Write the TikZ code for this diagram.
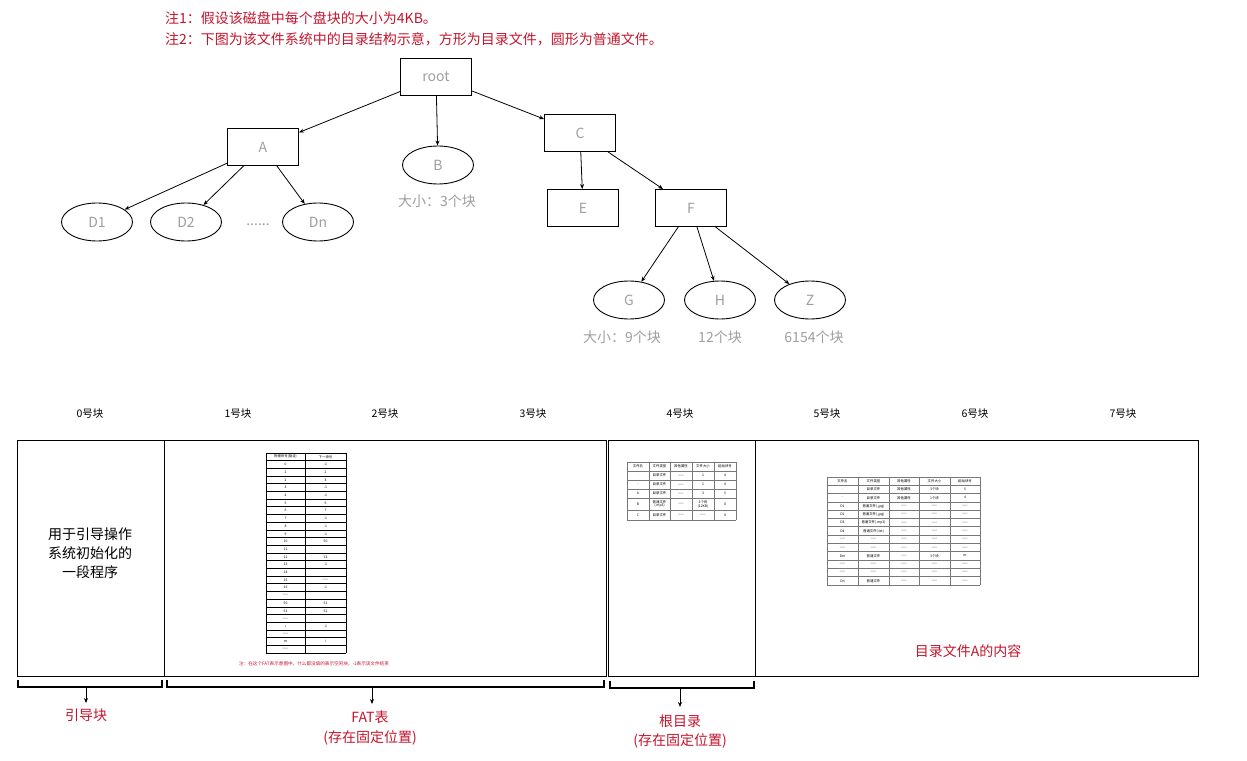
\documentclass[tikz,border=0pt]{standalone}
\usepackage{fontspec}
\setmainfont{Noto Sans CJK SC}
\usetikzlibrary{arrows.meta,shapes.geometric}
\definecolor{notered}{RGB}{196,20,44}
\definecolor{lblgray}{RGB}{158,158,158}
\definecolor{tblgray}{RGB}{120,120,120}
\begin{document}
\begin{tikzpicture}[x=1pt,y=-1pt,
  dirbox/.style={draw=black,line width=0.9pt,minimum width=71pt,minimum height=37pt,inner sep=0pt,font=\fontsize{14}{16}\selectfont,text=lblgray},
  filenode/.style={draw=black,line width=0.9pt,ellipse,minimum width=71pt,minimum height=38pt,inner sep=0pt,font=\fontsize{14}{16}\selectfont,text=lblgray},
  graylbl/.style={font=\fontsize{14}{16}\selectfont,text=lblgray,inner sep=1pt},
  arr/.style={-{Stealth[length=5pt,width=4pt]},line width=0.8pt},
  notetxt/.style={font=\fontsize{14}{16}\selectfont,text=notered,anchor=west,inner sep=0pt},
  redlbl/.style={font=\fontsize{14}{16}\selectfont,text=notered,inner sep=1pt},
  blklbl/.style={font=\fontsize{10.5}{12}\selectfont,inner sep=1pt},
  blkrect/.style={draw=black,line width=1pt},
  brk/.style={line width=1.8pt},
  fatline/.style={draw=black,line width=0.9pt},
  tline/.style={draw=tblgray,line width=0.7pt},
  tcell/.style={font=\fontsize{3.4}{3.8}\selectfont,inner sep=0pt,align=center},
  fatnote/.style={font=\fontsize{4.6}{5}\selectfont,text=notered,inner sep=0pt}
]
\useasboundingbox (0,0) rectangle (1247,760);

% ---------- notes ----------
\node[notetxt] (n1) at (165,18) {注1：假设该磁盘中每个盘块的大小为4KB。};
\node[notetxt] (n2) at (165,39) {注2：下图为该文件系统中的目录结构示意，方形为目录文件，圆形为普通文件。};

% ---------- tree ----------
\node[dirbox] (root) at (436,77) {root};
\node[dirbox] (A) at (263,147) {A};
\node[filenode] (B) at (438,165) {B};
\node[graylbl] (Bl) at (437,201) {大小：3个块};
\node[dirbox] (C) at (580,133) {C};
\node[dirbox] (E) at (583,208) {E};
\node[dirbox] (F) at (691,208) {F};
\node[filenode] (D1) at (97,222) {D1};
\node[filenode] (D2) at (186,222) {D2};
\node[graylbl] (dots) at (258,225) {......};
\node[filenode] (Dn) at (318,222) {Dn};
\node[filenode] (G) at (629,300) {G};
\node[filenode] (H) at (720,300) {H};
\node[filenode] (Z) at (810,300) {Z};
\node[graylbl] (Gl) at (622,337) {大小：9个块};
\node[graylbl] (Hl) at (720,337) {12个块};
\node[graylbl] (Zl) at (814,337) {6154个块};

\draw[arr] (root) -- (A);
\draw[arr] (root) -- (B);
\draw[arr] (root) -- (C);
\draw[arr] (A) -- (D1);
\draw[arr] (A) -- (D2);
\draw[arr] (A) -- (Dn);
\draw[arr] (C) -- (E);
\draw[arr] (C) -- (F);
\draw[arr] (F) -- (G);
\draw[arr] (F) -- (H);
\draw[arr] (F) -- (Z);

% ---------- block labels ----------
\foreach \n/\xx in {0/90,1/238,2/385,3/533,4/680,5/827,6/975,7/1123}
  \node[blklbl] (bl\n) at (\xx,414) {\n{}号块};

% ---------- blocks ----------
\draw[blkrect] (17,440) rectangle (164,676);
\draw[blkrect] (164,440) rectangle (606,676);
\draw[blkrect] (608,440) rectangle (755,676);
\draw[blkrect] (755,440) rectangle (1198,676);

\node[font=\fontsize{14}{19}\selectfont,align=center] (boot) at (90,553) {用于引导操作\\系统初始化的\\一段程序};
\node[redlbl] (Acont) at (968,651) {目录文件A的内容};

% ---------- FAT table ----------
\foreach \k in {0,...,26}
  \draw[fatline] (266,{453+7.7*\k}) -- (346,{453+7.7*\k});
\foreach \xx in {266,305,346}
  \draw[fatline] (\xx,453) -- (\xx,{453+7.7*26});
\foreach \a/\b [count=\i from 0] in {物理块号(隐含)/下一块号,0/-1,1/2,2/3,3/-1,4/-1,5/6,6/7,7/-1,8/-1,9/-1,10/50,11/{},12/13,13/-1,14/{},15/——,16/-1,——/{},50/51,51/52,——/{},i/-1,——/{},m/i,——/{}}
{
  \node[tcell] (fa\i) at (285.5,{453+7.7*\i+3.85}) {\a};
  \node[tcell] (fb\i) at (325.5,{453+7.7*\i+3.85}) {\b};
}
\node[fatnote] (fnote) at (314,664) {注：在这个FAT表示意图中，什么都没填的表示空闲块，-1表示该文件结束};

% ---------- root directory table ----------
\foreach \yy in {462,471,480,489,498,510,520}
  \draw[tline] (627,\yy) -- (736,\yy);
\foreach \xx in {627,649,670,692,714,736}
  \draw[tline] (\xx,462) -- (\xx,520);
\foreach \yy/\a/\b/\c/\d/\e [count=\i] in {466.5/文件名/文件类型/其他属性/文件大小/起始块号, 475.5/./目录文件/——/1/4, 484.5/../目录文件/——/1/4, 493.5/A/目录文件/——/3/5, 515/C/目录文件/——/——/8}
{
  \node[tcell] (ra\i) at (638,\yy) {\a};
  \node[tcell] (rb\i) at (659.5,\yy) {\b};
  \node[tcell] (rc\i) at (681,\yy) {\c};
  \node[tcell] (rd\i) at (703,\yy) {\d};
  \node[tcell] (re\i) at (725,\yy) {\e};
}
\node[tcell] (raB) at (638,504) {B};
\node[tcell] (rbB) at (659.5,504) {普通文件\\(.mp3)};
\node[tcell] (rcB) at (681,504) {——};
\node[tcell] (rdB) at (703,504) {3个块\\(12KB)};
\node[tcell] (reB) at (725,504) {8};

% ---------- directory A table ----------
\foreach \k in {0,...,13}
  \draw[tline] (827,{477+8.3*\k}) -- (980,{477+8.3*\k});
\foreach \xx in {827,858,889,919,950,980}
  \draw[tline] (\xx,477) -- (\xx,{477+8.3*13});
\foreach \a/\b/\c/\d/\e [count=\i from 0] in {文件名/文件类型/其他属性/文件大小/起始块号, ./目录文件/其他属性/3个块/5, ../目录文件/其他属性/1个块/4, D1/普通文件(.jpg)/——/——/——, D2/普通文件(.jpg)/——/——/——, D3/普通文件(.mp3)/——/——/——, D4/普通文件(.txt)/——/——/——, ——/——/——/——/——, ——/——/——/——/——, Dm/普通文件/——/3个块/m, ——/——/——/——/——, ——/——/——/——/——, Dn/普通文件/——/——/——}
{
  \node[tcell] (aa\i) at (842.5,{477+8.3*\i+4.15}) {\a};
  \node[tcell] (ab\i) at (873.5,{477+8.3*\i+4.15}) {\b};
  \node[tcell] (ac\i) at (904,{477+8.3*\i+4.15}) {\c};
  \node[tcell] (ad\i) at (934.5,{477+8.3*\i+4.15}) {\d};
  \node[tcell] (ae\i) at (965,{477+8.3*\i+4.15}) {\e};
}

% ---------- brackets ----------
\draw[brk] (18,680) -- (18,687) -- (162,687) -- (162,680);
\draw[brk] (167,680) -- (167,687) -- (604,687) -- (604,680);
\draw[brk] (610,681) -- (610,688) -- (754,688) -- (754,681);
\coordinate (k1s) at (86,687);  \coordinate (k1e) at (86,703);
\coordinate (k2s) at (372,687); \coordinate (k2e) at (372,704);
\coordinate (k3s) at (680,688); \coordinate (k3e) at (680,707);
\draw[arr] (k1s) -- (k1e);
\draw[arr] (k2s) -- (k2e);
\draw[arr] (k3s) -- (k3e);
\node[redlbl] (boot-l) at (86,715) {引导块};
\node[redlbl] (fat-l) at (370,717) {FAT表};
\node[redlbl] (fat-l2) at (370,738) {(存在固定位置)};
\node[redlbl] (root-l) at (680,721) {根目录};
\node[redlbl] (root-l2) at (680,741) {(存在固定位置)};
\end{tikzpicture}
\end{document}
